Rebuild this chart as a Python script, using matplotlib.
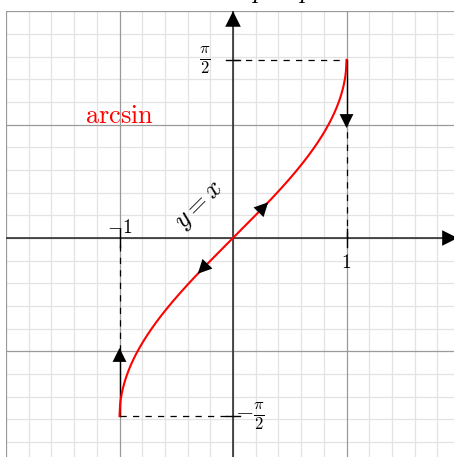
import numpy as np
import matplotlib
matplotlib.use("Agg")
from matplotlib import pyplot as plt

plt.rcParams['mathtext.fontset'] = 'cm'
plt.rcParams['font.family'] = 'DejaVu Serif'

# curve y = arcsin(x), x in [-1, 1]
x_vals = np.linspace(-1, 1, 401)
y_vals = np.arcsin(x_vals)

half_pi = np.pi / 2
lim = 2

fig = plt.figure(figsize=(4.54, 4.57), dpi=100)
ax = fig.add_axes([6 / 454, (457 - 464.8) / 457, 454 / 454, 453.6 / 457])
ax.set_xlim(-lim, lim)
ax.set_ylim(-lim, lim)
ax.axis('off')

# grid
for v in np.arange(-2, 2.01, 0.2):
    v = round(v, 1)
    if abs(v - round(v)) > 1e-6:
        ax.axvline(v, color='#e3e3e3', lw=0.9, zorder=0)
        ax.axhline(v, color='#e3e3e3', lw=0.9, zorder=0)
for v in range(-2, 3):
    ax.axvline(v, color='#9a9a9a', lw=0.9, zorder=1)
    ax.axhline(v, color='#9a9a9a', lw=0.9, zorder=1)

# axes with arrow heads
ax.plot([-lim, lim], [0, 0], color='#333333', lw=1.2, zorder=3)
ax.plot([0, 0], [-lim, lim], color='#333333', lw=1.2, zorder=3)
head = dict(arrowstyle='-|>', mutation_scale=28, color='black', lw=0, shrinkA=0, shrinkB=0)
ax.annotate('', xy=(0, 2.0), xytext=(0, 1.75), arrowprops=head, zorder=4)
ax.annotate('', xy=(1.98, 0), xytext=(1.73, 0), arrowprops=head, zorder=4)

# dashed guides
dash = dict(color='black', lw=0.9, ls=(0, (5, 5)), zorder=3)
ax.plot([0, 1], [half_pi, half_pi], **dash)
ax.plot([-1, 0], [-half_pi, -half_pi], **dash)
ax.plot([1, 1], [0, 1.0], **dash)
ax.plot([-1, -1], [-1.0, 0], **dash)
ax.plot([1, 1], [1.0, half_pi], color='black', lw=1.0, zorder=3)
ax.plot([-1, -1], [-half_pi, -1.0], color='black', lw=1.0, zorder=3)

# arcsin curve
ax.plot(x_vals, y_vals, color='red', lw=1.5, zorder=5)

# direction arrows
small = dict(arrowstyle='-|>', mutation_scale=25, color='black', lw=0, shrinkA=0, shrinkB=0)
ax.annotate('', xy=(0.31, 0.315), xytext=(0.17, 0.17), arrowprops=small, zorder=6)
ax.annotate('', xy=(-0.31, -0.315), xytext=(-0.17, -0.17), arrowprops=small, zorder=6)
ax.annotate('', xy=(1, 0.97), xytext=(1, 1.16), arrowprops=small, zorder=6)
ax.annotate('', xy=(-1, -0.97), xytext=(-1, -1.16), arrowprops=small, zorder=6)

# ticks
ax.plot([-0.06, 0.06], [half_pi, half_pi], color='black', lw=1.0, zorder=4)
ax.plot([-0.06, 0.06], [-half_pi, -half_pi], color='black', lw=1.0, zorder=4)
ax.plot([-1, -1], [-0.08, 0.08], color='black', lw=1.0, zorder=4)
ax.plot([1, 1], [-0.08, 0.08], color='black', lw=1.0, zorder=4)

# labels
ax.text(-0.25, half_pi, r'$\frac{\pi}{2}$', fontsize=17, ha='center', va='center', zorder=7)
ax.text(0.02, -half_pi, r'$-\frac{\pi}{2}$', fontsize=17, ha='left', va='center', zorder=7)
ax.text(-1.0, 0.09, r'$-1$', fontsize=14, ha='center', va='center', zorder=7)
ax.text(1.0, -0.22, r'$1$', fontsize=14, ha='center', va='center', zorder=7)
ax.text(-1.0, 1.08, r'$\mathrm{arcsin}$', fontsize=19, color='red', ha='center', va='center', zorder=7)
ax.text(-0.29, 0.29, r'$y = x$', fontsize=19, rotation=45, ha='center', va='center', zorder=7)

# top label, mostly outside the picture
fig.text(260 / 454, 1.004, r'$p$', fontsize=19, ha='center', va='baseline')
fig.text(307 / 454, 1.004, r'$p$', fontsize=19, ha='center', va='baseline')

fig.savefig('out.png', dpi=100)
